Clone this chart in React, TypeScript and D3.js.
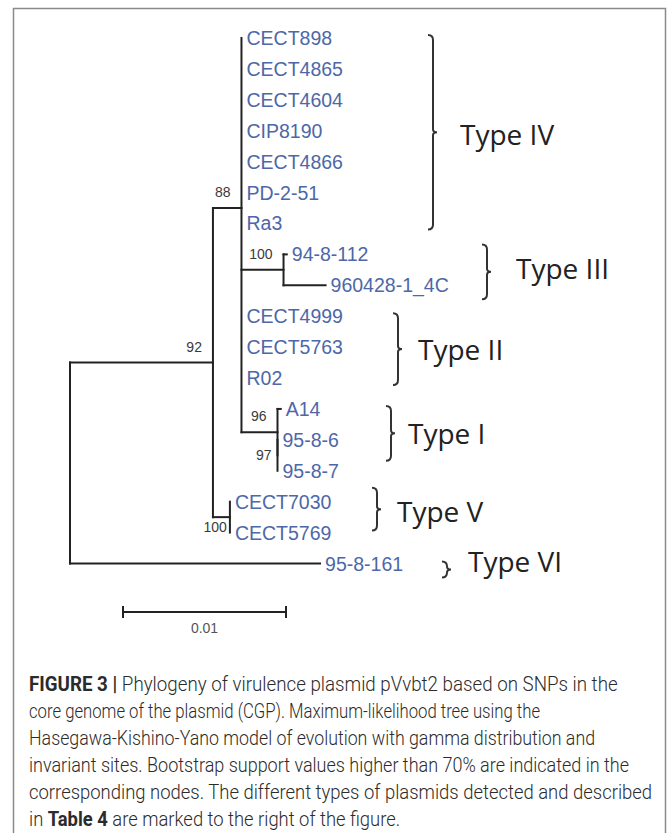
import { useLayoutEffect, useRef } from 'react';
import * as d3 from 'd3';

// ---- tree (flat table, MEGA maximum-likelihood tree) ----
const nodeIds = [
  'root', 'n92', 'n88',
  'CECT898', 'CECT4865', 'CECT4604', 'CIP8190', 'CECT4866', 'PD-2-51', 'Ra3',
  'n100a', '94-8-112', '960428-1_4C',
  'CECT4999', 'CECT5763', 'R02',
  'n96', 'A14', 'n97', '95-8-6', '95-8-7',
  'n100b', 'CECT7030', 'CECT5769',
  '95-8-161',
];
const parentIds = [
  '', 'root', 'n92',
  'n88', 'n88', 'n88', 'n88', 'n88', 'n88', 'n88',
  'n88', 'n100a', 'n100a',
  'n88', 'n88', 'n88',
  'n88', 'n96', 'n96', 'n97', 'n97',
  'n92', 'n100b', 'n100b',
  'root',
];
// substitutions per site
const branchLengths = [
  0, 0.00877, 0.00175,
  0, 0, 0, 0, 0, 0, 0,
  0.00258, 0.0002, 0.00258,
  0, 0, 0,
  0.00221, 0.0002, 0, 0, 0,
  0.00104, 0, 0,
  0.01534,
];

// bootstrap support
const supportNodes = ['n92', 'n88', 'n100a', 'n96', 'n97', 'n100b'];
const supportValues = [92, 88, 100, 96, 97, 100];

// plasmid types marked on the right
const typeNames = ['Type IV', 'Type III', 'Type II', 'Type I', 'Type V', 'Type VI'];
const typeFirst = ['CECT898', '94-8-112', 'CECT4999', 'A14', 'CECT7030', '95-8-161'];
const typeLast = ['Ra3', '960428-1_4C', 'R02', '95-8-7', 'CECT5769', '95-8-161'];

const scaleBarValue = 0.01;

const captionLines = [
  [['FIGURE 3 | ', true], ['Phylogeny of virulence plasmid pVvbt2 based on SNPs in the', false]],
  [['core genome of the plasmid (CGP). Maximum-likelihood tree using the', false]],
  [['Hasegawa-Kishino-Yano model of evolution with gamma distribution and', false]],
  [['invariant sites. Bootstrap support values higher than 70% are indicated in the', false]],
  [['corresponding nodes. The different types of plasmids detected and described', false]],
  [['in ', false], ['Table 4', true], [' are marked to the right of the figure.', false]],
];

// ---- layout ----
const W = 670;
const H = 833;
const LEAF_COLOR = '#4d67a8';
const INK = '#222';

// hand-placed brackets around each type
const bracketLayout = {
  'Type IV': { x: 433, labelX: 460, dTop: -3, dBot: 6, labelDy: 3 },
  'Type III': { x: 487, labelX: 516, dTop: -10, dBot: 14, labelDy: -3 },
  'Type II': { x: 398, labelX: 418, dTop: -3, dBot: 7, labelDy: 1 },
  'Type I': { x: 391, labelX: 408, dTop: -3, dBot: -10, labelDy: 1 },
  'Type V': { x: 377, labelX: 397, dTop: -14, dBot: -2, labelDy: 3 },
  'Type VI': { x: 447, labelX: 468, dTop: -2, dBot: 14, labelDy: -8 },
};
const labelNudge = {
  n97: { dx: -6, dy: 0 },
  n100b: { dx: -3, dy: 10 },
};
const CAP_X = 29;
const CAP_Y = 691;
const CAP_STEP = 27;
const captionRight = [618, 540, 595, 629, 652, 400];

function bracePath(x, y0, y1) {
  const r = 5;
  const m = (y0 + y1) / 2;
  return `M${x - r},${y0} Q${x},${y0} ${x},${y0 + r} L${x},${m - 3} Q${x},${m} ${x + 4},${m} Q${x},${m} ${x},${m + 3} L${x},${y1 - r} Q${x},${y1} ${x - r},${y1}`;
}

export default function App() {
  const capRefs = useRef([]);

  // squeeze each caption line horizontally to the reference width (condensed face)
  useLayoutEffect(() => {
    const fit = () => {
      capRefs.current.forEach((el, i) => {
        if (!el) return;
        const w = el.getComputedTextLength();
        const s = w > 0 ? (captionRight[i] - CAP_X) / w : 1;
        el.setAttribute('transform', `translate(${CAP_X},${CAP_Y + i * CAP_STEP}) scale(${s},1)`);
      });
    };
    fit();
    if (document.fonts && document.fonts.ready) document.fonts.ready.then(fit);
  }, []);

  const rows = nodeIds.map((id, i) => ({ id, parent: parentIds[i] || null, len: branchLengths[i] }));
  const root = d3.stratify().id((d) => d.id).parentId((d) => d.parent)(rows);

  const x = d3.scaleLinear().domain([0, 0.01]).range([70, 233]);
  const leaves = root.leaves();
  const y = d3.scaleLinear().domain([0, leaves.length - 1]).range([38, 563.5]);

  root.eachBefore((n) => {
    n.dist = (n.parent ? n.parent.dist : 0) + n.data.len;
  });
  leaves.forEach((n, i) => (n.yy = y(i)));
  root.eachAfter((n) => {
    if (n.children) n.yy = d3.median(n.children, (c) => c.yy);
  });

  const byId = new Map(root.descendants().map((n) => [n.id, n]));

  const lines = [];
  root.descendants().forEach((n) => {
    if (n.parent && n.data.len > 0) {
      lines.push({ key: 'h' + n.id, x1: x(n.parent.dist), y1: n.yy, x2: x(n.dist), y2: n.yy });
    }
    if (n.children) {
      const c = n.children;
      lines.push({ key: 'v' + n.id, x1: x(n.dist), y1: c[0].yy, x2: x(n.dist), y2: c[c.length - 1].yy });
    }
  });

  const barX0 = 123;
  const barX1 = barX0 + x(scaleBarValue) - x(0);
  const barY = 612;

  return (
    <svg
      width={W}
      height={H}
      style={{ position: 'absolute', left: 0, top: 0, background: '#fff' }}
      fontFamily="'Liberation Sans', Arial, sans-serif"
    >
      <path d={`M13.5,${H + 5} V8.5 H665.5 V${H + 5}`} fill="none" stroke="#8a8a8a" strokeWidth={1.5} />

      <g stroke={INK} strokeWidth={2} strokeLinecap="square">
        {lines.map((l) => (
          <line key={l.key} x1={l.x1} y1={l.y1} x2={l.x2} y2={l.y2} />
        ))}
      </g>

      <g fill={LEAF_COLOR} fontSize={19.5}>
        {leaves.map((n) => (
          <text key={n.id} x={x(n.dist) + 5} y={n.yy} dy="0.36em">
            {n.id}
          </text>
        ))}
      </g>

      <g fill="#3a3a3a" fontSize={14} textAnchor="end">
        {supportNodes.map((id, i) => {
          const n = byId.get(id);
          const nudge = labelNudge[id] || { dx: -11, dy: -16 };
          return (
            <text key={id} x={x(n.dist) + nudge.dx} y={n.yy + nudge.dy} dy="0.36em">
              {supportValues[i]}
            </text>
          );
        })}
      </g>

      <g>
        {typeNames.map((t, i) => {
          const b = bracketLayout[t];
          const y0 = byId.get(typeFirst[i]).yy + b.dTop;
          const y1 = byId.get(typeLast[i]).yy + b.dBot;
          const m = (y0 + y1) / 2;
          return (
            <g key={t}>
              <path d={bracePath(b.x, y0, y1)} fill="none" stroke="#333" strokeWidth={2} />
              <text
                x={b.labelX}
                y={m + b.labelDy}
                dy="0.36em"
                fontFamily="'Open Sans', sans-serif"
                fontSize={28}
                fill={INK}
              >
                {t}
              </text>
            </g>
          );
        })}
      </g>

      <g stroke={INK} strokeWidth={2}>
        <line x1={barX0} y1={barY} x2={barX1} y2={barY} />
        <line x1={barX0} y1={barY - 6} x2={barX0} y2={barY + 6} />
        <line x1={barX1} y1={barY - 6} x2={barX1} y2={barY + 6} />
      </g>
      <text x={(barX0 + barX1) / 2} y={barY + 16} dy="0.36em" textAnchor="middle" fontSize={14} fill="#555">
        {scaleBarValue}
      </text>

      <g fontFamily="Roboto, 'Liberation Sans', sans-serif" fontSize={20.5} fill="#2b2b2b">
        {captionLines.map((segs, i) => (
          <text
            key={i}
            ref={(el) => (capRefs.current[i] = el)}
            transform={`translate(${CAP_X},${CAP_Y + i * CAP_STEP}) scale(0.8,1)`}
          >
            {segs.map(([s, bold], j) => (
              <tspan key={j} fontWeight={bold ? 700 : 300}>
                {s}
              </tspan>
            ))}
          </text>
        ))}
      </g>
    </svg>
  );
}
